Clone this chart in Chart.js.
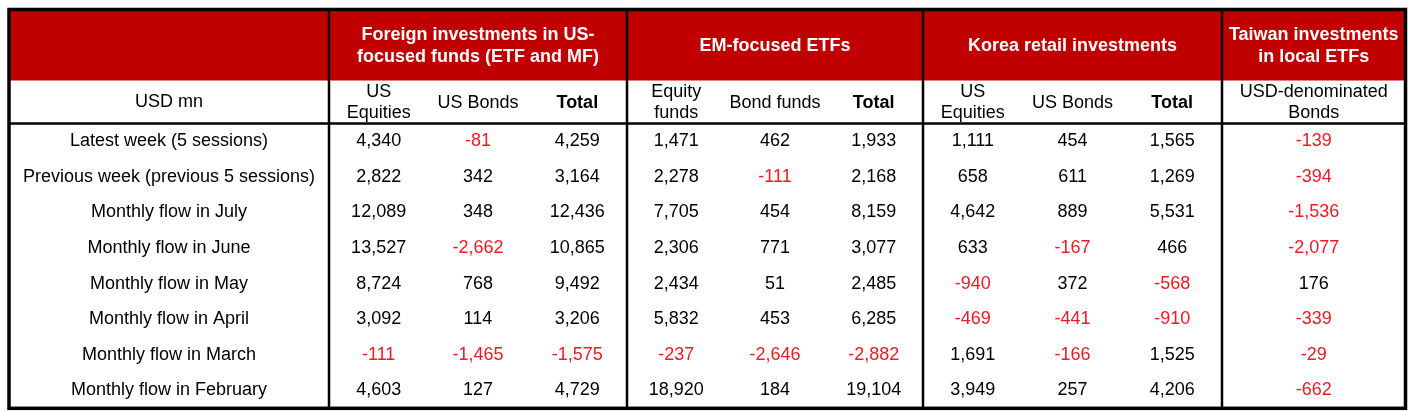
<!DOCTYPE html>
<html>
<head>
<meta charset="utf-8">
<script src="https://cdn.jsdelivr.net/npm/chart.js@4"></script>
<style>
  html, body { margin: 0; padding: 0; background: #fff; }
  #wrap { width: 1411px; height: 411px; position: relative; }
</style>
</head>
<body>
<div id="wrap"><canvas id="flows-table"></canvas></div>
<script>
// table content
const groupLabels = ['Foreign investments in US-\nfocused funds (ETF and MF)', 'EM-focused ETFs', 'Korea retail investments', 'Taiwan investments\nin local ETFs'];
const groupSpans = [3, 3, 3, 1];
const cornerLabel = 'USD mn';
const subLabels = ['US\nEquities', 'US Bonds', 'Total', 'Equity\nfunds', 'Bond funds', 'Total', 'US\nEquities', 'US Bonds', 'Total', 'USD-denominated\nBonds'];
const rowLabels = [
  'Latest week (5 sessions)',
  'Previous week (previous 5 sessions)',
  'Monthly flow in July',
  'Monthly flow in June',
  'Monthly flow in May',
  'Monthly flow in April',
  'Monthly flow in March',
  'Monthly flow in February',
];

const usEquitiesFunds = [4340, 2822, 12089, 13527, 8724, 3092, -111, 4603];
const usBondsFunds = [-81, 342, 348, -2662, 768, 114, -1465, 127];
const usFundsTotal = [4259, 3164, 12436, 10865, 9492, 3206, -1575, 4729];
const emEquityEtfs = [1471, 2278, 7705, 2306, 2434, 5832, -237, 18920];
const emBondEtfs = [462, -111, 454, 771, 51, 453, -2646, 184];
const emEtfsTotal = [1933, 2168, 8159, 3077, 2485, 6285, -2882, 19104];
const koreaUsEquities = [1111, 658, 4642, 633, -940, -469, 1691, 3949];
const koreaUsBonds = [454, 611, 889, -167, 372, -441, -166, 257];
const koreaTotal = [1565, 1269, 5531, 466, -568, -910, 1525, 4206];
const taiwanUsdBonds = [-139, -394, -1536, -2077, 176, -339, -29, -662];

const columns = [usEquitiesFunds, usBondsFunds, usFundsTotal, emEquityEtfs, emBondEtfs, emEtfsTotal,
  koreaUsEquities, koreaUsBonds, koreaTotal, taiwanUsdBonds];

// layout (scale units)
const colWidths = [320, 99.3, 99.3, 99.4, 98.7, 98.7, 98.6, 99.7, 99.7, 99.6, 183.5];
const rowHeights = [71, 43, 35.6, 35.6, 35.6, 35.6, 35.6, 35.6, 35.6, 35.6];

const RED = '#c00000';
const NEG = '#f01a22';
const FONT = "'Liberation Sans', Arial, sans-serif";

const edges = (sizes) => sizes.reduce((acc, s) => { acc.push(acc[acc.length - 1] + s); return acc; }, [0]);
const colEdges = edges(colWidths);
const rowEdges = edges(rowHeights);
const mid = (e, i) => (e[i] + e[i + 1]) / 2;

const datasets = columns.map((values, c) => ({
  label: subLabels[c].replace('\n', ' '),
  data: values.map((v, r) => ({ x: mid(colEdges, c + 1), y: mid(rowEdges, r + 2), v })),
  pointRadius: 0,
  showLine: false,
}));

function drawLines(ctx, text, x, y, lineH) {
  const lines = text.split('\n');
  const start = y - (lines.length - 1) * lineH / 2;
  lines.forEach((ln, i) => ctx.fillText(ln, x, start + i * lineH));
}

const tablePlugin = {
  id: 'tablePlugin',
  beforeDatasetsDraw(chart) {
    const { ctx, scales: { x, y } } = chart;
    const px = (i) => x.getPixelForValue(colEdges[i]);
    const py = (i) => y.getPixelForValue(rowEdges[i]);
    ctx.save();
    // red group header band
    ctx.fillStyle = RED;
    ctx.fillRect(px(0), py(0), px(colWidths.length) - px(0), py(1) - py(0));

    ctx.textAlign = 'center';
    ctx.textBaseline = 'middle';
    // group headers
    ctx.fillStyle = '#fff';
    ctx.font = `bold 18px ${FONT}`;
    let c = 1;
    groupLabels.forEach((g, i) => {
      const cx = (px(c) + px(c + groupSpans[i])) / 2;
      drawLines(ctx, g, cx, (py(0) + py(1)) / 2 + 1, 22);
      c += groupSpans[i];
    });
    // sub headers
    ctx.fillStyle = '#000';
    ctx.font = `18px ${FONT}`;
    drawLines(ctx, cornerLabel, (px(0) + px(1)) / 2, (py(1) + py(2)) / 2, 21);
    subLabels.forEach((s, i) => {
      ctx.font = s === 'Total' ? `bold 18px ${FONT}` : `18px ${FONT}`;
      drawLines(ctx, s, (px(i + 1) + px(i + 2)) / 2, (py(1) + py(2)) / 2 + 1, 21);
    });
    // row labels
    ctx.font = `18px ${FONT}`;
    rowLabels.forEach((lbl, r) => {
      ctx.fillText(lbl, (px(0) + px(1)) / 2, (py(r + 2) + py(r + 3)) / 2);
    });
    ctx.restore();
  },
  afterDatasetsDraw(chart) {
    const { ctx } = chart;
    ctx.save();
    ctx.font = `18px ${FONT}`;
    ctx.textAlign = 'center';
    ctx.textBaseline = 'middle';
    chart.data.datasets.forEach((ds, i) => {
      chart.getDatasetMeta(i).data.forEach((pt, j) => {
        const v = ds.data[j].v;
        ctx.fillStyle = v < 0 ? NEG : '#000';
        ctx.fillText(v.toLocaleString('en-US'), pt.x, pt.y);
      });
    });
    ctx.restore();
  },
  afterDraw(chart) {
    const { ctx, scales: { x, y } } = chart;
    const px = (i) => x.getPixelForValue(colEdges[i]);
    const py = (i) => y.getPixelForValue(rowEdges[i]);
    const last = colWidths.length;
    ctx.save();
    ctx.strokeStyle = '#000';
    // group separators
    ctx.lineWidth = 2.5;
    let c = 1;
    [0, ...groupSpans.slice(0, -1)].forEach((span) => {
      c += span;
      ctx.beginPath();
      ctx.moveTo(px(c), py(0));
      ctx.lineTo(px(c), py(rowHeights.length));
      ctx.stroke();
    });
    // line under sub headers
    ctx.beginPath();
    ctx.moveTo(px(0), py(2));
    ctx.lineTo(px(last), py(2));
    ctx.stroke();
    // outer border
    ctx.lineWidth = 3.5;
    ctx.strokeRect(px(0), py(0), px(last) - px(0), py(rowHeights.length) - py(0));
    ctx.restore();
  },
};

new Chart(document.getElementById('flows-table'), {
  type: 'scatter',
  data: { datasets },
  options: {
    responsive: true,
    maintainAspectRatio: false,
    animation: false,
    events: [],
    layout: {
      padding: { left: 9, right: 5.5, top: 9.5, bottom: 2.7 },
    },
    plugins: {
      legend: { display: false },
      tooltip: { enabled: false },
    },
    scales: {
      x: {
        type: 'linear',
        display: false,
        min: 0,
        max: colEdges[colEdges.length - 1],
      },
      y: {
        type: 'linear',
        display: false,
        reverse: true,
        min: 0,
        max: rowEdges[rowEdges.length - 1],
      },
    },
  },
  plugins: [tablePlugin],
});
</script>
</body>
</html>
